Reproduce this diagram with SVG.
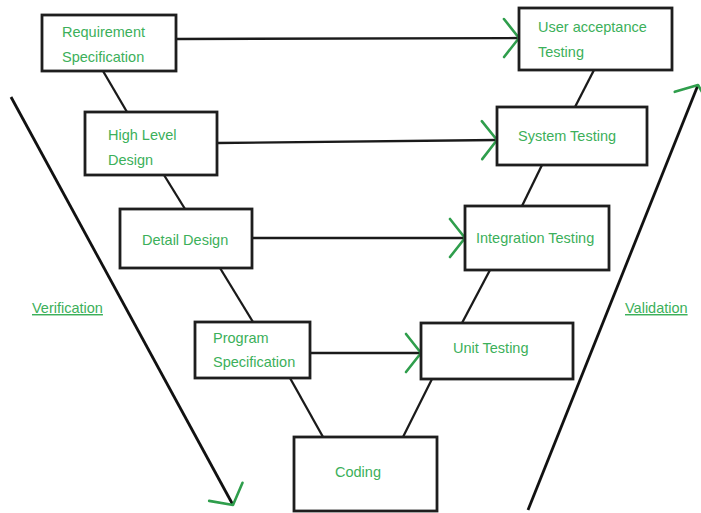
<svg xmlns="http://www.w3.org/2000/svg" width="701" height="513" viewBox="0 0 701 513">
  <style>
    .box { fill: #ffffff; stroke: #1e1e1e; stroke-width: 2.8; }
    .lbl { font-family: "Liberation Sans", Arial, sans-serif; font-size: 14.5px; fill: #3cb05a; }
    .link { stroke: #1a1a1a; stroke-width: 2.3; fill: none; }
    .flow { stroke: #1a1a1a; stroke-width: 2.3; fill: none; marker-end: url(#chev); }
    .side { stroke: #111111; stroke-width: 2.8; fill: none; marker-end: url(#chev); }
    .ul { text-decoration: underline; }
  </style>
  <defs>
    <marker id="chev" markerUnits="userSpaceOnUse" viewBox="-20 -22 24 44" refX="0" refY="0" markerWidth="24" markerHeight="44" orient="auto">
      <path d="M-15,-19 L0,0 L-15,19" fill="none" stroke="#2f9e4c" stroke-width="2.6" stroke-linecap="round" stroke-linejoin="round"/>
    </marker>
  </defs>
  <rect width="701" height="513" fill="#ffffff"/>

  <g id="connectors">
    <!-- V-shape links between phases -->
    <line class="link" x1="103" y1="71" x2="127" y2="112"/>
    <line class="link" x1="164" y1="175" x2="185" y2="209"/>
    <line class="link" x1="220" y1="268" x2="253" y2="322"/>
    <line class="link" x1="290" y1="378" x2="323" y2="437"/>
    <line class="link" x1="403" y1="437" x2="432" y2="379"/>
    <line class="link" x1="462" y1="323" x2="490" y2="270"/>
    <line class="link" x1="522" y1="206" x2="542" y2="165"/>
    <line class="link" x1="575" y1="107" x2="594" y2="70"/>
    <!-- horizontal test-planning arrows -->
    <line class="flow" x1="176" y1="39" x2="519" y2="38"/>
    <line class="flow" x1="217" y1="143" x2="497" y2="140"/>
    <line class="flow" x1="252" y1="238" x2="465" y2="238"/>
    <line class="flow" x1="310" y1="353" x2="421" y2="353"/>
    <!-- side arrows -->
    <line class="side" x1="11" y1="97" x2="233" y2="505"/>
    <line class="side" x1="528" y1="510" x2="698" y2="85"/>
  </g>

  <g id="requirement-specification">
    <rect class="box" x="42" y="15" width="134" height="56"/>
    <text class="lbl" x="62" y="37">Requirement</text>
    <text class="lbl" x="62" y="62">Specification</text>
  </g>
  <g id="high-level-design">
    <rect class="box" x="85" y="112" width="132" height="63"/>
    <text class="lbl" x="108" y="140">High Level</text>
    <text class="lbl" x="108" y="165">Design</text>
  </g>
  <g id="detail-design">
    <rect class="box" x="120" y="209" width="132" height="59"/>
    <text class="lbl" x="142" y="245">Detail Design</text>
  </g>
  <g id="program-specification">
    <rect class="box" x="195" y="322" width="115" height="56"/>
    <text class="lbl" x="213" y="343">Program</text>
    <text class="lbl" x="213" y="367">Specification</text>
  </g>
  <g id="coding">
    <rect class="box" x="294" y="437" width="143" height="74"/>
    <text class="lbl" x="335" y="477">Coding</text>
  </g>
  <g id="unit-testing">
    <rect class="box" x="421" y="323" width="152" height="56"/>
    <text class="lbl" x="453" y="353">Unit Testing</text>
  </g>
  <g id="integration-testing">
    <rect class="box" x="465" y="206" width="144" height="64"/>
    <text class="lbl" x="476" y="243">Integration Testing</text>
  </g>
  <g id="system-testing">
    <rect class="box" x="497" y="107" width="150" height="58"/>
    <text class="lbl" x="518" y="141">System Testing</text>
  </g>
  <g id="user-acceptance-testing">
    <rect class="box" x="519" y="8" width="153" height="62"/>
    <text class="lbl" x="538" y="32">User acceptance</text>
    <text class="lbl" x="538" y="57">Testing</text>
  </g>

  <g id="side-labels">
    <text class="lbl ul" x="32" y="313">Verification</text>
    <text class="lbl ul" x="625" y="313">Validation</text>
  </g>
</svg>
